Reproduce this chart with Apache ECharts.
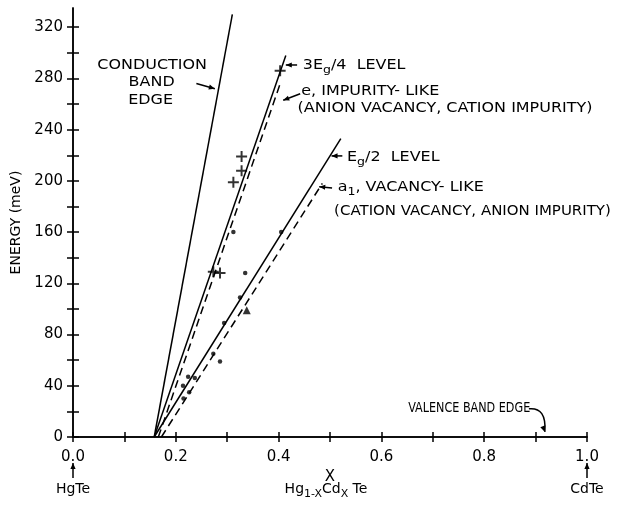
<!DOCTYPE html>
<html><head><meta charset="utf-8">
<script src="https://cdn.jsdelivr.net/npm/echarts@6/dist/echarts.min.js"></script>
<style>html,body{margin:0;padding:0;background:#fff}#c{width:619px;height:505px}</style>
</head><body><div id="c"></div>
<script>
// ---- data (x = Cd fraction, y = energy in meV) ----
const conductionBandEdge = [[0.158, 0], [0.310, 330]];
const level3Eg4 = [[0.158, 0], [0.414, 298]];
const eImpurityLike = [[0.166, 0], [0.404, 277]];
const levelEg2 = [[0.158, 0], [0.521, 233]];
const a1VacancyLike = [[0.172, 0], [0.485, 198]];
const plusPoints = [[0.403, 286], [0.328, 219], [0.328, 208], [0.312, 199], [0.273, 129], [0.286, 128]];
const dotPoints = [[0.405, 160], [0.312, 160], [0.335, 128], [0.325, 109], [0.294, 89], [0.273, 65], [0.286, 59],
                   [0.224, 47], [0.237, 46], [0.214, 40], [0.226, 35], [0.215, 30]];
const trianglePoints = [[0.338, 99]];
const xTickValues = [0, 0.1, 0.2, 0.3, 0.4, 0.5, 0.6, 0.7, 0.8, 0.9, 1.0];
const xLabelValues = [0, 0.2, 0.4, 0.6, 0.8, 1.0];
const yTickValues = [0, 20, 40, 60, 80, 100, 120, 140, 160, 180, 200, 220, 240, 260, 280, 300, 320];
const yLabelValues = [0, 40, 80, 120, 160, 200, 240, 280, 320];

const FONT = 'DejaVu Sans';
const chart = echarts.init(document.getElementById('c'));
const lineStyle = (dashed) => ({ color: '#000', width: 1.5, type: dashed ? [8, 5] : 'solid' });
const mkLine = (name, data, dashed) => ({
  name, type: 'line', data, showSymbol: false, symbol: 'none', silent: true, clip: false,
  lineStyle: lineStyle(dashed), animation: false
});
const plusPath = 'path://M-1,-0.18H-0.18V-1H0.18V-0.18H1V0.18H0.18V1H-0.18V0.18H-1Z';

const axisCommon = {
  axisLine: { lineStyle: { color: '#000', width: 1.5 } },
  splitLine: { show: false }
};
chart.setOption({
  animation: false,
  grid: { left: 73, right: 32, top: 8, bottom: 68 },
  xAxis: [
    Object.assign({ type: 'value', min: 0, max: 1, position: 'bottom',
      axisTick: { inside: false, length: 5, customValues: xTickValues, lineStyle: { color: '#000', width: 1.5 } },
      axisLabel: { customValues: xLabelValues, margin: 13, color: '#000', fontFamily: FONT, fontSize: 15,
        formatter: v => v.toFixed(1) },
      name: 'X', nameLocation: 'middle', nameGap: 28,
      nameTextStyle: { color: '#000', fontFamily: FONT, fontSize: 15 } }, axisCommon),
    Object.assign({ type: 'value', min: 0, max: 1, position: 'bottom',
      axisTick: { inside: true, length: 5, customValues: xTickValues, lineStyle: { color: '#000', width: 1.5 } },
      axisLabel: { show: false } }, axisCommon)
  ],
  yAxis: [
    Object.assign({ type: 'value', min: 0, max: 335, position: 'left',
      axisTick: { inside: false, length: 6, customValues: yTickValues, lineStyle: { color: '#000', width: 1.5 } },
      axisLabel: { customValues: yLabelValues, margin: 10, color: '#000', fontFamily: FONT, fontSize: 15 },
      name: 'ENERGY (meV)', nameLocation: 'middle', nameRotate: 90, nameGap: 50,
      nameTextStyle: { color: '#000', fontFamily: FONT, fontSize: 14 } }, axisCommon),
    Object.assign({ type: 'value', min: 0, max: 335, position: 'left',
      axisTick: { inside: true, length: 6, customValues: yTickValues, lineStyle: { color: '#000', width: 1.5 } },
      axisLabel: { show: false } }, axisCommon)
  ],
  series: [
    mkLine('Conduction band edge', conductionBandEdge, false),
    mkLine('3Eg/4 level', level3Eg4, false),
    mkLine('e, impurity-like', eImpurityLike, true),
    mkLine('Eg/2 level', levelEg2, false),
    mkLine('a1, vacancy-like', a1VacancyLike, true),
    { name: 'plus', type: 'scatter', data: plusPoints, symbol: plusPath, symbolSize: 11,
      itemStyle: { color: '#000' }, silent: true },
    { name: 'dot', type: 'scatter', data: dotPoints, symbol: 'circle', symbolSize: 4.5,
      itemStyle: { color: '#000' }, silent: true },
    { name: 'triangle', type: 'scatter', data: trianglePoints, symbol: 'triangle', symbolSize: 8,
      itemStyle: { color: '#000' }, silent: true }
  ]
});

// ---- annotations, placed in data coordinates ----
const P = (v, e) => chart.convertToPixel({ gridIndex: 0 }, [v, e]);
const g = [];
const rich = {
  s: { fontFamily: FONT, fontSize: 11, fill: '#000', padding: [10, 0, 0, 0] }
};
function textPx(x, y, str, align, size, sx) {
  g.push({ type: 'text', x, y, scaleX: sx || 1, silent: true,
    style: { text: str, fill: '#000', font: (size || 14) + 'px "' + FONT + '"', align: align || 'left',
      verticalAlign: 'middle', rich: rich } });
}
function text(v, e, str, align, size, sx) { const p = P(v, e); textPx(p[0], p[1], str, align, size, sx); }
function head(x1, y1, x2, y2) {
  const a = Math.atan2(y2 - y1, x2 - x1), L = 6, w = 2.6;
  const bx = x2 - L * Math.cos(a), by = y2 - L * Math.sin(a);
  g.push({ type: 'polygon', silent: true, shape: { points: [[x2, y2],
    [bx + w * Math.sin(a), by - w * Math.cos(a)], [bx - w * Math.sin(a), by + w * Math.cos(a)]] },
    style: { fill: '#000' } });
}
function arrowPx(x1, y1, x2, y2) {
  g.push({ type: 'line', silent: true, shape: { x1, y1, x2, y2 }, style: { stroke: '#000', lineWidth: 1.5 } });
  head(x1, y1, x2, y2);
}
function arrow(v1, e1, v2, e2) { const a = P(v1, e1), b = P(v2, e2); arrowPx(a[0], a[1], b[0], b[1]); }

const SX = 1.14;
text(0.154, 290, 'CONDUCTION', 'center', 14, SX);
text(0.153, 277, 'BAND', 'center', 14, SX);
text(0.151, 263, 'EDGE', 'center', 14, SX);
arrow(0.240, 276, 0.276, 272);

text(0.447, 290.5, '3E{s|g}/4  LEVEL', 'left', 14, SX);
arrow(0.436, 290.5, 0.414, 290.5);
text(0.444, 270, 'e, IMPURITY- LIKE', 'left', 14, SX);
text(0.437, 257, '(ANION VACANCY, CATION IMPURITY)', 'left', 14, SX);
arrow(0.442, 268, 0.409, 263);

text(0.533, 218.6, 'E{s|g}/2  LEVEL', 'left', 14, SX);
arrow(0.524, 219.5, 0.503, 219.5);

text(0.515, 195, 'a{s|1}, VACANCY- LIKE', 'left', 14, SX);
text(0.508, 176, '(CATION VACANCY, ANION IMPURITY)', 'left', 14, 1.07);
arrow(0.504, 194.5, 0.479, 195.5);

text(0.652, 22.6, 'VALENCE BAND EDGE', 'left', 14, 0.8);
(function () {
  const a = P(0.887, 22), c = P(0.906, 25), b = P(0.918, 4);
  g.push({ type: 'bezierCurve', silent: true,
    shape: { x1: a[0], y1: a[1], cpx1: c[0] + 8, cpy1: c[1] + 2, x2: b[0], y2: b[1] },
    style: { stroke: '#000', lineWidth: 1.5, fill: null } });
  head(b[0] - 3, b[1] - 8, b[0], b[1]);
})();

// labels under the axis
const x0 = P(0, 0), x1 = P(1, 0), xm = P(0.5, 0);
arrowPx(x0[0], x0[1] + 41, x0[0], x0[1] + 26);
arrowPx(x1[0], x1[1] + 41, x1[0], x1[1] + 26);
textPx(x0[0], x0[1] + 52, 'HgTe', 'center');
textPx(x1[0], x1[1] + 52, 'CdTe', 'center');
textPx(xm[0] - 4, xm[1] + 52, 'Hg{s|1-X}Cd{s|X} Te', 'center');

chart.setOption({ graphic: { elements: g } });
</script></body></html>
